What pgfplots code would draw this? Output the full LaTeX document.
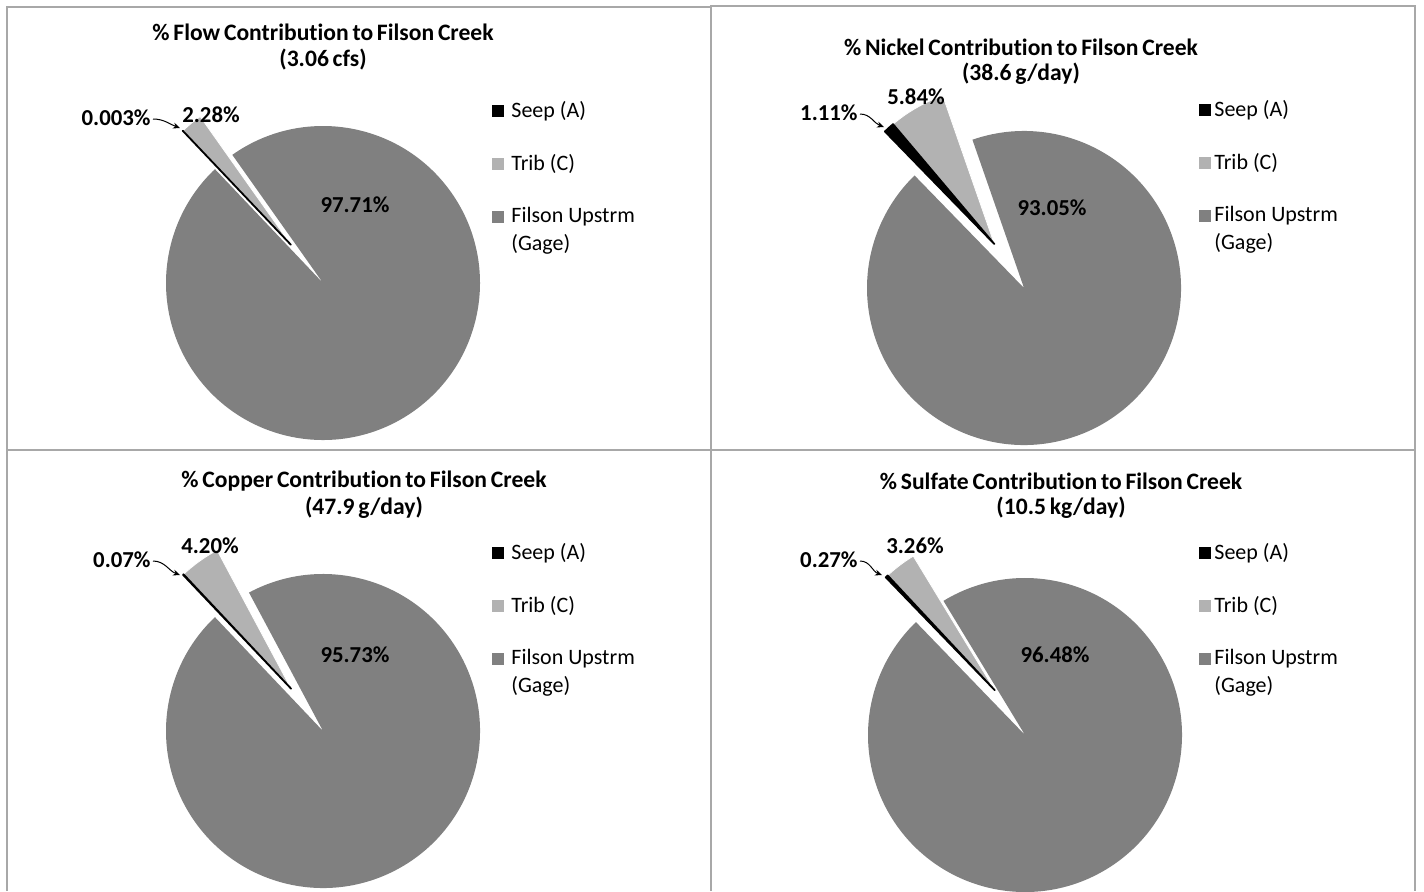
\documentclass[border=0pt]{standalone}
\usepackage{fontspec}
\setmainfont{Carlito}[Ligatures={NoCommon}]
\usepackage{pgfplots}
\usepackage{pgfplotstable}
\pgfplotsset{compat=1.18}
\usetikzlibrary{arrows.meta}

\definecolor{seepcol}{RGB}{0,0,0}
\definecolor{tribcol}{RGB}{178,178,178}
\definecolor{filsoncol}{RGB}{128,128,128}
\definecolor{framecol}{RGB}{168,168,168}

% Percent contribution of each source, one table per constituent
\pgfplotstableread{
source value
Seep   0.003
Trib   2.28
Filson 97.71
}\flowdata
\pgfplotstableread{
source value
Seep   1.11
Trib   5.84
Filson 93.05
}\nickeldata
\pgfplotstableread{
source value
Seep   0.07
Trib   4.20
Filson 95.73
}\copperdata
\pgfplotstableread{
source value
Seep   0.27
Trib   3.26
Filson 96.48
}\sulfatedata

\newcommand\pieR{78.5pt}
\newcommand\titlefont{\fontsize{11.8}{13}\selectfont\bfseries\spaceskip=0.16em\relax}
\newcommand\labelfont{\fontsize{11.4}{13}\selectfont\bfseries}
\newcommand\legendfont{\fontsize{11}{13}\selectfont}

\newcommand\getvalues[1]{%
  \pgfplotstablegetelem{0}{value}\of#1\let\va\pgfplotsretval
  \pgfplotstablegetelem{1}{value}\of#1\let\vb\pgfplotsretval
  \pgfplotstablegetelem{2}{value}\of#1\let\vc\pgfplotsretval}

% #1 table, #2 cx, #3 cy, #4 first slice angle, #5 explode direction, #6 explode distance
\newcommand\drawpie[6]{%
  \getvalues{#1}%
  \pgfmathsetmacro\aA{#4}%
  \pgfmathsetmacro\aB{#4-3.6*\va}%
  \pgfmathsetmacro\aC{#4-3.6*(\va+\vb)}%
  \pgfmathsetmacro\aD{#4-360}%
  \fill[filsoncol] (axis cs:#2,#3) -- ++(\aC:\pieR)
     arc[start angle=\aC, end angle=\aD, radius=\pieR] -- cycle;
  \fill[tribcol, draw=white, line width=0.4pt]
     ([shift={(#5:#6)}]axis cs:#2,#3) -- ++(\aB:\pieR)
     arc[start angle=\aB, end angle=\aC, radius=\pieR] -- cycle;
  \filldraw[seepcol, line width=0.9pt, line join=round]
     ([shift={(#5:#6)}]axis cs:#2,#3) -- ++(\aA:\pieR)
     arc[start angle=\aA, end angle=\aB, radius=\pieR] -- cycle;
}

% #1 table, #2 seep label (east end), #3 trib label, #4 filson label, #5 leader start, #6 leader end
\newcommand\pielabels[6]{%
  \getvalues{#1}%
  \node[anchor=east, font=\labelfont, inner sep=0pt] at (axis cs:#2) {\va\%};
  \node[font=\labelfont, inner sep=0pt] at (axis cs:#3) {\vb\%};
  \node[font=\labelfont, inner sep=0pt] at (axis cs:#4) {\vc\%};
  \draw[black, line width=0.5pt, -{Stealth[length=3.5pt,width=3pt]}]
     (axis cs:#5) to[out=0, in=160] (axis cs:#6);
}

% #1 square centre x, #2 text x, #3 first row y
\newcommand\pielegend[3]{%
  \fill[seepcol]   (axis cs:#1-6,#3-6) rectangle (axis cs:#1+6,#3+6);
  \fill[tribcol]   (axis cs:#1-6,#3+47) rectangle (axis cs:#1+6,#3+59);
  \fill[filsoncol] (axis cs:#1-6,#3+100) rectangle (axis cs:#1+6,#3+112);
  \node[anchor=west, font=\legendfont, inner sep=0pt] at (axis cs:#2,#3) {Seep (A)};
  \node[anchor=west, font=\legendfont, inner sep=0pt] at (axis cs:#2,#3+53) {Trib (C)};
  \node[anchor=west, font=\legendfont, inner sep=0pt] at (axis cs:#2,#3+106) {Filson Upstrm};
  \node[anchor=west, font=\legendfont, inner sep=0pt] at (axis cs:#2,#3+133) {(Gage)};
}

\begin{document}
\begin{tikzpicture}
\begin{axis}[
  hide axis, x=0.5pt, y=0.5pt, y dir=reverse,
  xmin=0, xmax=1424, ymin=0, ymax=891,
  enlargelimits=false, clip=true]

% panel frames
\draw[framecol, line width=1pt] (axis cs:7,891) -- (axis cs:7,6.5) -- (axis cs:711,6.5);
\draw[framecol, line width=1pt] (axis cs:711,891) -- (axis cs:711,5.5) -- (axis cs:1415,5.5) -- (axis cs:1415,891);
\draw[framecol, line width=1pt] (axis cs:7,450) -- (axis cs:1415,450);

% flow
\pgfplotsextra{\drawpie{\flowdata}{323}{283}{133.5}{130}{25pt}}
\pgfplotsextra{\pielabels{\flowdata}{151,118}{211,115}{355,205}{153,119}{180,128}}
\node[font=\titlefont] at (axis cs:323,32) {\% Flow Contribution to Filson Creek};
\node[font=\titlefont] at (axis cs:323,60) {(3.06 cfs)};
\pielegend{498}{511}{111}

% nickel
\pgfplotsextra{\drawpie{\nickeldata}{1024}{288}{134.2}{124}{26.5pt}}
\pgfplotsextra{\pielabels{\nickeldata}{858,113}{916,97}{1052,208}{860,114}{884,127}}
\node[font=\titlefont] at (axis cs:1021,47) {\% Nickel Contribution to Filson Creek};
\node[font=\titlefont] at (axis cs:1021,74) {(38.6 g/day)};
\pielegend{1205}{1214}{110}

% copper
\pgfplotsextra{\drawpie{\copperdata}{323}{731}{133.5}{127}{26.5pt}}
\pgfplotsextra{\pielabels{\copperdata}{151,560}{210,546}{355,655}{153,561}{180,575}}
\node[font=\titlefont] at (axis cs:364,481) {\% Copper Contribution to Filson Creek};
\node[font=\titlefont] at (axis cs:364,508) {(47.9 g/day)};
\pielegend{498}{511}{553}

% sulfate
\pgfplotsextra{\drawpie{\sulfatedata}{1025}{735}{134}{124}{27pt}}
\pgfplotsextra{\pielabels{\sulfatedata}{858,560}{915,546}{1055,655}{860,561}{882,575}}
\node[font=\titlefont] at (axis cs:1061,481) {\% Sulfate Contribution to Filson Creek};
\node[font=\titlefont] at (axis cs:1061,508) {(10.5 kg/day)};
\pielegend{1205}{1214}{553}
\end{axis}
\pgfresetboundingbox
\path (0,0) rectangle (712pt,445.5pt);
\end{tikzpicture}
\end{document}
